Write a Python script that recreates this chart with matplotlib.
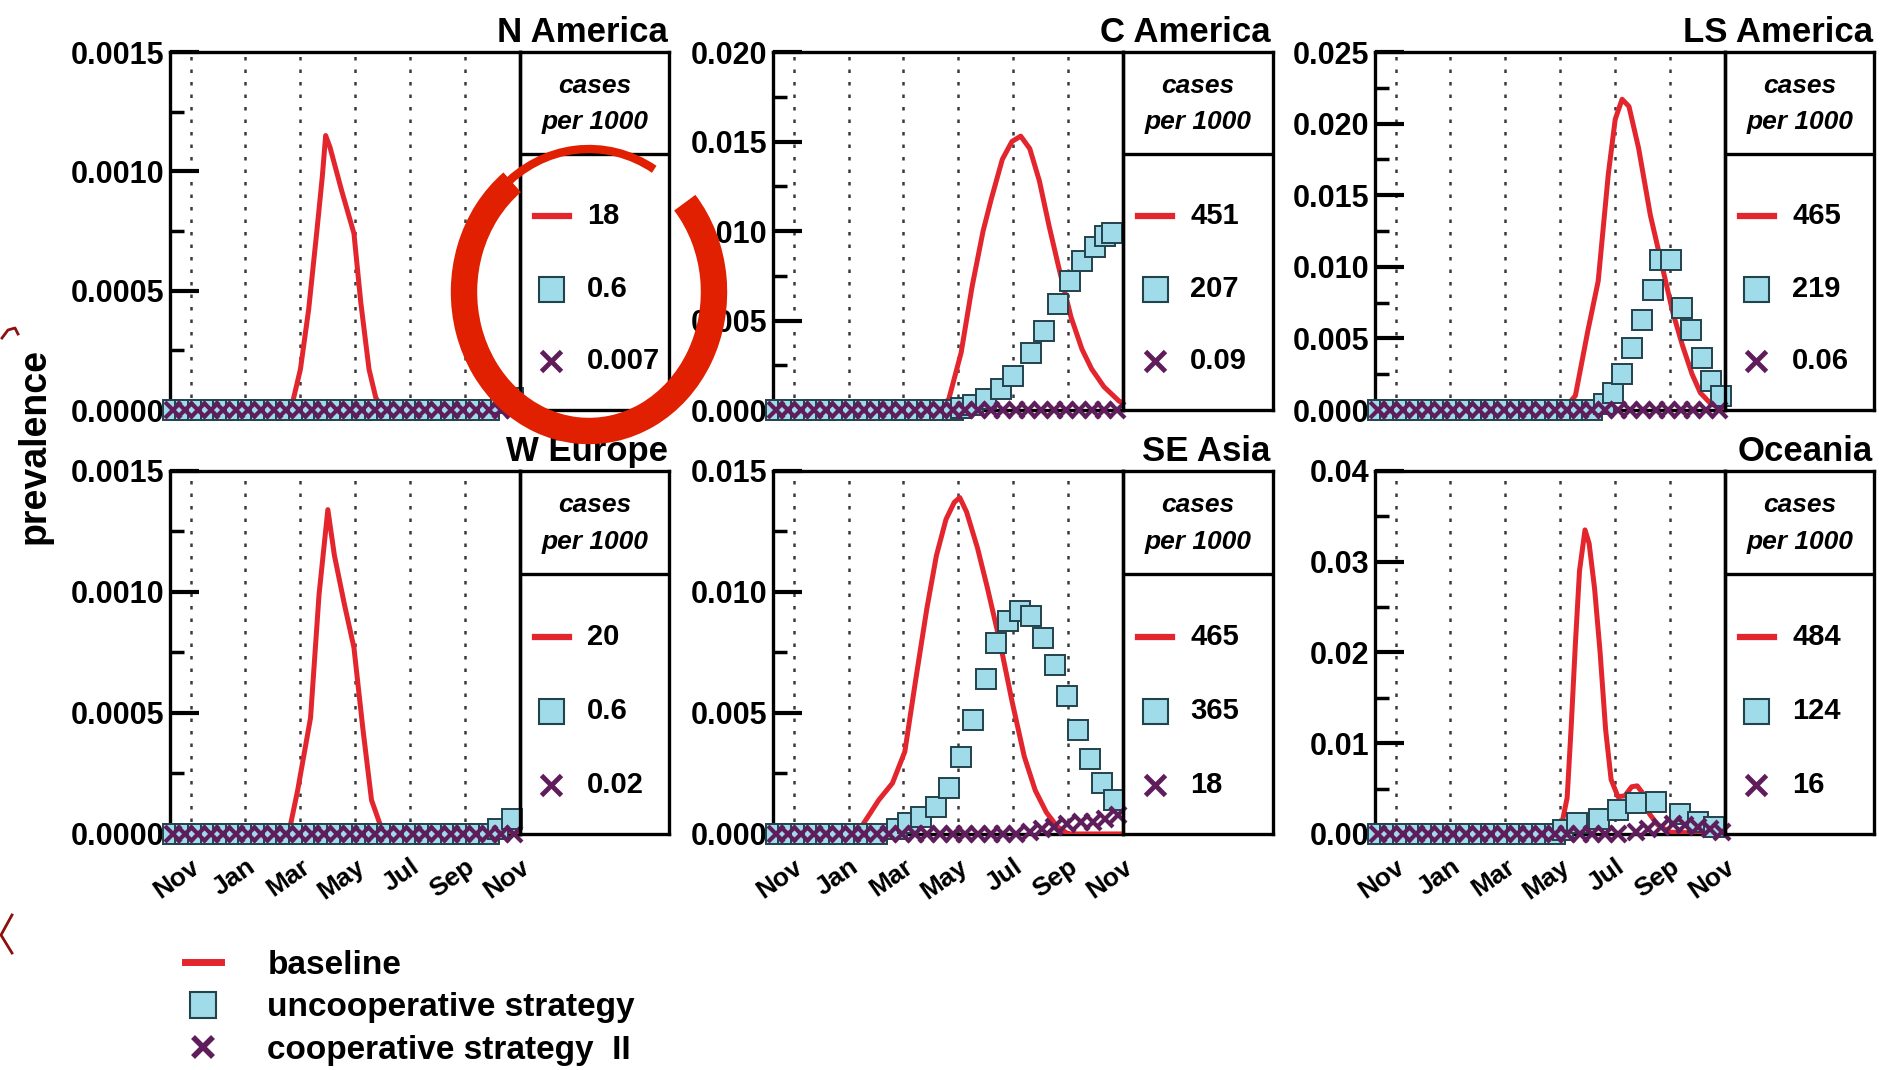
import numpy as np
import matplotlib.pyplot as plt
from matplotlib.patches import Arc
from matplotlib.lines import Line2D
from matplotlib.transforms import IdentityTransform
from matplotlib.ticker import MultipleLocator, FormatStrFormatter

plt.rcParams['font.family'] = ['Liberation Sans', 'DejaVu Sans']
plt.rcParams['font.weight'] = 'bold'

# Panels -------------------------------
regions = ['N America', 'C America', 'LS America', 'W Europe', 'SE Asia', 'Oceania']
cases_base = ['18', '451', '465', '20', '465', '484']
cases_unc = ['0.6', '207', '219', '0.6', '365', '124']
cases_coop = ['0.007', '0.09', '0.06', '0.02', '18', '16']
y_top = [0.0015, 0.020, 0.025, 0.0015, 0.015, 0.04]
y_step = [0.0005, 0.005, 0.005, 0.0005, 0.005, 0.01]
y_fmt = ['%.4f', '%.3f', '%.3f', '%.4f', '%.3f', '%.2f']

month_pos = [0, 2, 4, 6, 8, 10, 12]
month_names = ['Nov', 'Jan', 'Mar', 'May', 'Jul', 'Sep', 'Nov']

# time in months after 1 Nov; markers sit on a two-week schedule
sample_t = np.arange(-0.65, 12.0, 0.46)

# baseline prevalence
base_x = [
    [-0.75, 3.65, 4.0, 4.3, 4.6, 4.8, 4.92, 5.08, 5.5, 5.95, 6.2, 6.5, 6.75, 7.06, 12.0],
    [-0.75, 5.2, 5.65, 6.1, 6.5, 6.9, 7.2, 7.6, 7.95, 8.27, 8.6, 8.95, 9.3, 9.65, 10.1, 10.5,
     10.85, 11.3, 11.85, 12.0],
    [-0.75, 6.1, 6.55, 7.0, 7.38, 7.75, 8.0, 8.25, 8.5, 8.85, 9.28, 9.75, 10.1, 10.45, 10.8,
     11.1, 11.5, 12.0],
    [-0.75, 3.57, 3.9, 4.37, 4.68, 5.0, 5.24, 5.6, 5.95, 6.27, 6.59, 6.9, 7.1, 12.0],
    [-0.75, 2.3, 2.7, 3.1, 3.6, 4.05, 4.45, 4.85, 5.2, 5.55, 5.85, 6.05, 6.3, 6.7, 7.05, 7.5,
     7.95, 8.4, 8.8, 9.2, 9.6, 10.0, 12.0],
    [-0.75, 5.1, 5.4, 5.8, 6.07, 6.25, 6.4, 6.55, 6.7, 6.9, 7.05, 7.25, 7.45, 7.65, 7.85, 8.1,
     8.35, 8.6, 8.8, 9.0, 9.25, 9.55, 10.0, 12.0],
]
base_y = [
    [0, 0, 0.00017, 0.00042, 0.00075, 0.00098, 0.00115, 0.00110, 0.00092, 0.00074, 0.00045,
     0.00017, 0.00005, 0, 0],
    [0, 0, 0.0006, 0.0032, 0.0069, 0.0100, 0.0118, 0.0140, 0.0150, 0.0153, 0.0146, 0.0128,
     0.0103, 0.0080, 0.0052, 0.0034, 0.0023, 0.0013, 0.0005, 0.0004],
    [0, 0, 0.0010, 0.0055, 0.0090, 0.0165, 0.0203, 0.0217, 0.0212, 0.0183, 0.0136, 0.0097,
     0.0068, 0.0045, 0.0025, 0.0012, 0.0004, 0.0001],
    [0, 0, 0.00018, 0.00048, 0.00099, 0.00134, 0.00115, 0.00095, 0.00077, 0.00044, 0.00014,
     0.00004, 0, 0],
    [0, 0, 0.0007, 0.0014, 0.0021, 0.0034, 0.0064, 0.0093, 0.0115, 0.0130, 0.0137, 0.0139,
     0.0133, 0.0118, 0.0102, 0.0080, 0.0055, 0.0032, 0.0018, 0.0009, 0.0003, 0.0, 0.0],
    [0, 0, 0.0002, 0.0006, 0.0013, 0.0040, 0.0120, 0.0210, 0.0290, 0.0335, 0.0320, 0.0270,
     0.0200, 0.0115, 0.0060, 0.0041, 0.0042, 0.0052, 0.0053, 0.0045, 0.0022, 0.0010, 0.0002, 0],
]

# uncooperative strategy (points above zero)
unc_x = [
    [11.3, 11.75],
    [6.1, 6.55, 7.02, 7.56, 7.98, 8.63, 9.1, 9.63, 10.05, 10.5, 10.97, 11.35, 11.6],
    [7.6, 7.93, 8.25, 8.6, 8.98, 9.38, 9.64, 10.02, 10.42, 10.75, 11.17, 11.5, 11.85],
    [11.2, 11.7],
    [3.75, 4.15, 4.63, 5.18, 5.67, 6.1, 6.52, 7.01, 7.38, 7.8, 8.23, 8.66, 9.09, 9.51, 9.94,
     10.37, 10.79, 11.22, 11.65],
    [6.1, 6.6, 7.4, 8.1, 8.75, 9.5, 10.37, 11.0, 11.6],
]
unc_y = [
    [0.00003, 0.00005],
    [0.0001, 0.0003, 0.0006, 0.0012, 0.0019, 0.0032, 0.0044, 0.0059, 0.0072, 0.0083, 0.0091,
     0.0097, 0.0099],
    [0.0004, 0.0012, 0.0025, 0.0043, 0.0063, 0.0084, 0.0105, 0.0105, 0.0071, 0.0056, 0.0036,
     0.0020, 0.0010],
    [0.00002, 0.00006],
    [0.0002, 0.00045, 0.0007, 0.0011, 0.0019, 0.0032, 0.0047, 0.0064, 0.0079, 0.0088, 0.0092,
     0.0090, 0.0081, 0.0070, 0.0057, 0.0043, 0.0031, 0.0021, 0.0014],
    [0.0004, 0.0012, 0.0017, 0.0026, 0.0034, 0.0035, 0.0022, 0.0013, 0.0008],
]

# cooperative strategy II (points above zero)
coop_x = [
    [], [], [], [],
    [8.6, 9.05, 9.5, 9.95, 10.45, 10.9, 11.35, 11.8],
    [8.75, 9.2, 9.65, 10.1, 10.55, 11.0, 11.45, 11.9],
]
coop_y = [
    [], [], [], [],
    [0.0001, 0.0002, 0.0003, 0.0004, 0.0005, 0.0005, 0.0006, 0.0008],
    [0.0002, 0.0005, 0.0008, 0.0011, 0.0010, 0.0008, 0.0005, 0.0002],
]

RED = '#e3262e'
CYAN = '#9fdbe8'
EDGE = '#22424c'
PURPLE = '#5f1d5c'

fig = plt.figure(figsize=(19.03, 10.70), dpi=100)

col_left = [0.0893, 0.4062, 0.7225]
plot_w = 0.184
leg_w = 0.0785
row_bottom = [0.6168, 0.2206]
row_h = [0.3346, 0.3393]

for p in range(6):
    r, c = divmod(p, 3)
    ax = fig.add_axes([col_left[c], row_bottom[r], plot_w, row_h[r]])
    lg = fig.add_axes([col_left[c] + plot_w, row_bottom[r], leg_w, row_h[r]])
    lg.set_facecolor('none')

    # curves
    ax.plot(base_x[p], base_y[p], color=RED, lw=3.6, zorder=3)

    flat = sample_t[sample_t < unc_x[p][0] - 0.3]
    sx = list(flat) + unc_x[p]
    sy = [0.0] * len(flat) + unc_y[p]
    ax.plot(sx, sy, ls='none', marker='s', ms=14.5, mfc=CYAN, mec=EDGE, mew=1.4,
            zorder=4, clip_on=False)

    cut = coop_x[p][0] - 0.2 if coop_x[p] else 99
    flat = sample_t[sample_t < cut]
    cx = list(flat) + coop_x[p]
    cy = [0.0] * len(flat) + coop_y[p]
    ax.plot(cx, cy, ls='none', marker='x', ms=12, mec=PURPLE, mew=3,
            zorder=5, clip_on=False)

    # axes look
    ax.set_xlim(-0.75, 12.0)
    ax.set_ylim(0, y_top[p])
    ax.yaxis.set_major_locator(MultipleLocator(y_step[p]))
    ax.yaxis.set_minor_locator(MultipleLocator(y_step[p] / 2))
    ax.yaxis.set_major_formatter(FormatStrFormatter(y_fmt[p]))
    ax.tick_params(axis='y', which='major', direction='in', length=21, width=3,
                   labelsize=22, pad=4)
    ax.tick_params(axis='y', which='minor', direction='in', length=10, width=2.5)
    ax.set_xticks(month_pos)
    ax.grid(axis='x', color='#3a3a3a', ls=(0, (1.4, 3.6)), lw=1.8)
    if r == 1:
        ax.set_xticklabels(month_names, rotation=35, ha='right', va='top',
                           rotation_mode='anchor', fontsize=19)
        ax.tick_params(axis='x', length=0, pad=15)
    else:
        ax.tick_params(axis='x', length=0, labelbottom=False)
    for s in ax.spines.values():
        s.set_linewidth(2.4)

    # legend box of the panel
    lg.set_xlim(0, 1)
    lg.set_ylim(0, 1)
    lg.set_xticks([])
    lg.set_yticks([])
    for s in lg.spines.values():
        s.set_linewidth(2.4)
    lg.axhline(0.715, color='black', lw=2.4)
    lg.text(0.5, 0.905, 'cases', ha='center', va='center', fontsize=19, style='italic')
    lg.text(0.5, 0.805, 'per 1000', ha='center', va='center', fontsize=19, style='italic')
    lg.plot([0.1, 0.33], [0.542, 0.542], color=RED, lw=4.5)
    lg.plot(0.21, 0.339, marker='s', ms=18, mfc=CYAN, mec=EDGE, mew=1.5)
    lg.plot(0.21, 0.136, marker='x', ms=15, mec=PURPLE, mew=3.5)
    lg.text(0.45, 0.542, cases_base[p], va='center', fontsize=21)
    lg.text(0.45, 0.339, cases_unc[p], va='center', fontsize=21)
    lg.text(0.45, 0.136, cases_coop[p], va='center', fontsize=21)

    fig.text(col_left[c] + plot_w + leg_w - 0.001, row_bottom[r] + row_h[r] + 0.009,
             regions[p], ha='right', va='baseline', fontsize=25)

fig.text(0.018, 0.583, 'prevalence', rotation=90, ha='center', va='center', fontsize=27)

handles = [
    Line2D([], [], color=RED, lw=5),
    Line2D([], [], ls='none', marker='s', ms=19, mfc=CYAN, mec=EDGE, mew=1.5),
    Line2D([], [], ls='none', marker='x', ms=14, mec=PURPLE, mew=4),
]
fig.legend(handles, ['baseline', 'uncooperative strategy', 'cooperative strategy  II'],
           loc='upper left', bbox_to_anchor=(0.097, 0.112), frameon=False, fontsize=24,
           handlelength=1.1, handletextpad=1.38, labelspacing=0.34, borderpad=0,
           borderaxespad=0)

# hand-drawn red circle on top
px = IdentityTransform()
fig.add_artist(Arc((589, 778), 250, 278, theta1=125, theta2=403, color='#e02000',
                   lw=19, transform=px, zorder=20))
fig.add_artist(Arc((589, 778), 254, 286, theta1=62, theta2=130, color='#e02000',
                   lw=6, transform=px, zorder=20))
fig.add_artist(Line2D([2, 8, 15, 18], [732, 740, 742, 736], color='#8b1010', lw=2,
                      transform=px))
fig.add_artist(Line2D([12, 1, 12], [155, 135, 117], color='#8b1010', lw=2,
                      transform=px))

fig.savefig('out.png', dpi=100)
